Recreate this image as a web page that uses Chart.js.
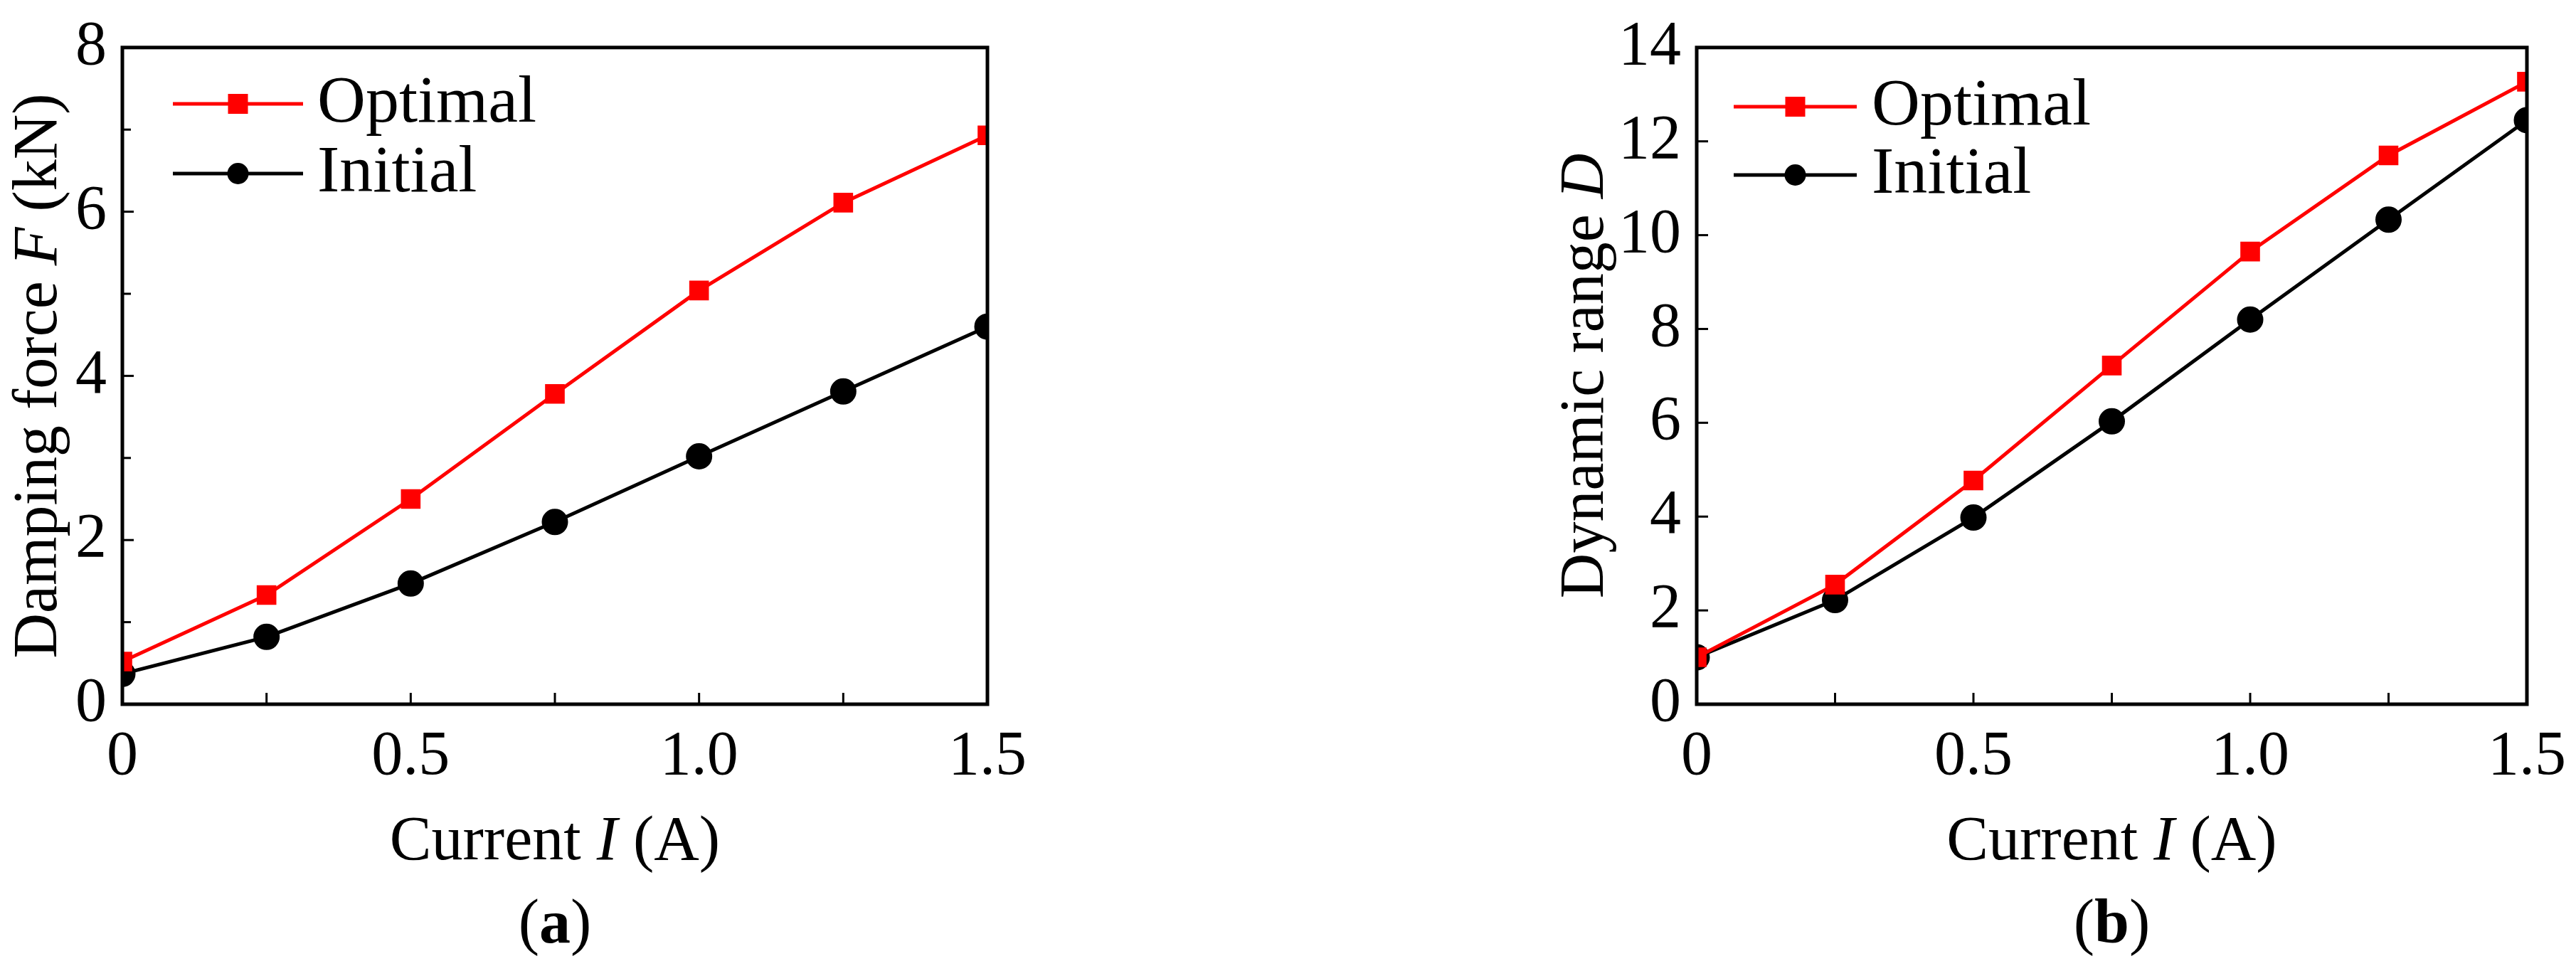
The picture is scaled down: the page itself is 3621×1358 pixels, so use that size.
<!DOCTYPE html>
<html><head><meta charset="utf-8">
<script src="https://cdn.jsdelivr.net/npm/chart.js@4"></script>
<style>
html,body{margin:0;padding:0;background:#fff;width:3621px;height:1358px;overflow:hidden}
.c{position:absolute;top:0;width:1810px;height:1358px}
</style></head><body>
<div class="c" style="left:0"><canvas id="c1" width="1810" height="1358"></canvas></div>
<div class="c" style="left:1811px"><canvas id="c2" width="1810" height="1358"></canvas></div>
<script>
const currents = [0, 0.25, 0.5, 0.75, 1.0, 1.25, 1.5];
const forceOptimal = [0.52, 1.33, 2.50, 3.78, 5.04, 6.11, 6.93];
const forceInitial = [0.37, 0.82, 1.47, 2.22, 3.02, 3.81, 4.60];
const rangeOptimal = [1.0, 2.55, 4.77, 7.22, 9.65, 11.70, 13.27];
const rangeInitial = [1.0, 2.22, 3.98, 6.03, 8.20, 10.33, 12.45];
const xTickLabels = {0:'0', 0.5:'0.5', 1:'1.0', 1.5:'1.5'};
const seriesNames = ['Optimal', 'Initial'];

const FONT = '"Liberation Serif", "Times New Roman", serif';

function pts(ys){ return currents.map((x,i)=>({x, y: ys[i]})); }

function drawMixed(ctx, parts, x, y, align){
  let total = 0;
  parts.forEach(p=>{ ctx.font = p[1]; total += ctx.measureText(p[0]).width; });
  let cx = align === 'center' ? x - total/2 : x;
  ctx.textAlign = 'left';
  parts.forEach(p=>{ ctx.font = p[1]; ctx.fillText(p[0], cx, y); cx += ctx.measureText(p[0]).width; });
}

function makeChart(id, yOpt, yIni, yMax, yStep, yMinor, yTitleParts, caption, geo){
  const deco = {
    id: 'deco',
    afterDraw(chart){
      const ctx = chart.ctx, a = chart.chartArea;
      const xs = chart.scales.x, ys = chart.scales.y;
      ctx.save();
      ctx.strokeStyle = '#000'; ctx.lineWidth = 5;
      ctx.strokeRect(a.left, a.top, a.right - a.left, a.bottom - a.top);
      ctx.lineWidth = 3;
      xs.ticks.forEach(t=>{
        const px = xs.getPixelForValue(t.value);
        ctx.beginPath(); ctx.moveTo(px, a.bottom); ctx.lineTo(px, a.bottom - 16); ctx.stroke();
      });
      ys.ticks.forEach(t=>{
        const py = ys.getPixelForValue(t.value);
        const major = Math.abs(t.value % yStep) < 1e-6;
        if (!major && !yMinor) return;
        ctx.beginPath(); ctx.moveTo(a.left, py); ctx.lineTo(a.left + (major ? 16 : 12), py); ctx.stroke();
      });
      const L = geo.legend;
      chart.data.datasets.forEach((ds, i)=>{
        const yy = L.y0 + i * L.dy;
        ctx.strokeStyle = ds.borderColor; ctx.lineWidth = 5;
        ctx.beginPath(); ctx.moveTo(L.x0, yy); ctx.lineTo(L.x1, yy); ctx.stroke();
        ctx.fillStyle = ds.backgroundColor;
        const mx = (L.x0 + L.x1) / 2;
        if (ds.pointStyle === 'rect') ctx.fillRect(mx - 14, yy - 14, 28, 28);
        else { ctx.beginPath(); ctx.arc(mx, yy, 15, 0, Math.PI*2); ctx.fill(); }
        ctx.fillStyle = '#000'; ctx.font = '94px ' + FONT;
        ctx.textAlign = 'left'; ctx.textBaseline = 'middle';
        ctx.fillText(ds.label, L.tx, yy);
      });
      ctx.fillStyle = '#000'; ctx.textBaseline = 'middle';
      drawMixed(ctx, [['Current ', '88px ' + FONT], ['I', 'italic 88px ' + FONT], [' (A)', '88px ' + FONT]],
        (a.left + a.right)/2, geo.xTitleY, 'center');
      ctx.save();
      ctx.translate(geo.yTitleX, (a.top + a.bottom)/2);
      ctx.rotate(-Math.PI/2);
      drawMixed(ctx, yTitleParts, 0, 0, 'center');
      ctx.restore();
      drawMixed(ctx, [['(', '88px ' + FONT], [caption, 'bold 88px ' + FONT], [')', '88px ' + FONT]],
        (a.left + a.right)/2, geo.capY, 'center');
      ctx.restore();
    }
  };
  return new Chart(document.getElementById(id), {
    type: 'line',
    data: { datasets: [
      { label: seriesNames[0], data: pts(yOpt), borderColor: '#ff0000', backgroundColor: '#ff0000',
        borderWidth: 5, pointStyle: 'rect', pointRadius: 16, pointHoverRadius: 16, tension: 0 },
      { label: seriesNames[1], data: pts(yIni), borderColor: '#000000', backgroundColor: '#000000',
        borderWidth: 5, pointStyle: 'circle', pointRadius: 16, pointHoverRadius: 16, tension: 0 }
    ]},
    options: {
      responsive: false, animation: false, devicePixelRatio: 1,
      events: [],
      layout: { padding: { left: 0, right: geo.padRight, top: geo.top, bottom: 0 } },
      plugins: { legend: { display: false }, tooltip: { enabled: false } },
      scales: {
        x: { type: 'linear', min: 0, max: 1.5,
          afterBuildTicks(s){ s.ticks = currents.map(v=>({value: v})); },
          afterFit(s){ s.height = 1358 - geo.bottom; },
          grid: { display: false }, border: { display: false },
          ticks: { color: '#000', font: { family: FONT, size: 88 }, padding: 14, maxRotation: 0, autoSkip: false,
            callback: v => (xTickLabels[v] !== undefined ? xTickLabels[v] : '') } },
        y: { min: 0, max: yMax,
          afterBuildTicks(s){ const t=[]; const st = yMinor ? yStep/2 : yStep; for(let v=0; v<=yMax+1e-9; v+=st) t.push({value: Math.round(v*100)/100}); s.ticks = t; },
          afterFit(s){ s.width = geo.left; },
          grid: { display: false }, border: { display: false },
          ticks: { color: '#000', font: { family: FONT, size: 88 }, padding: 14, autoSkip: false,
            callback: v => (Math.abs(v % yStep) < 1e-6 ? String(v) : '') } }
      }
    },
    plugins: [deco]
  });
}

makeChart('c1', forceOptimal, forceInitial, 8, 2, true,
  [['Damping force ', '88px ' + FONT], ['F', 'italic 88px ' + FONT], [' (kN)', '88px ' + FONT]], 'a',
  { left: 172, padRight: 1810 - 1388, top: 36, bottom: 990, xTitleY: 1185, yTitleX: 56, capY: 1302,
    legend: { x0: 243, x1: 426, tx: 446, y0: 146, dy: 98 } });

makeChart('c2', rangeOptimal, rangeInitial, 14, 2, false,
  [['Dynamic range ', '88px ' + FONT], ['D', 'italic 88px ' + FONT]], 'b',
  { left: 574, padRight: 1810 - 1758, top: 36, bottom: 990, xTitleY: 1185, yTitleX: 419, capY: 1302,
    legend: { x0: 626, x1: 799, tx: 820, y0: 150, dy: 96 } });
</script>
</body></html>
